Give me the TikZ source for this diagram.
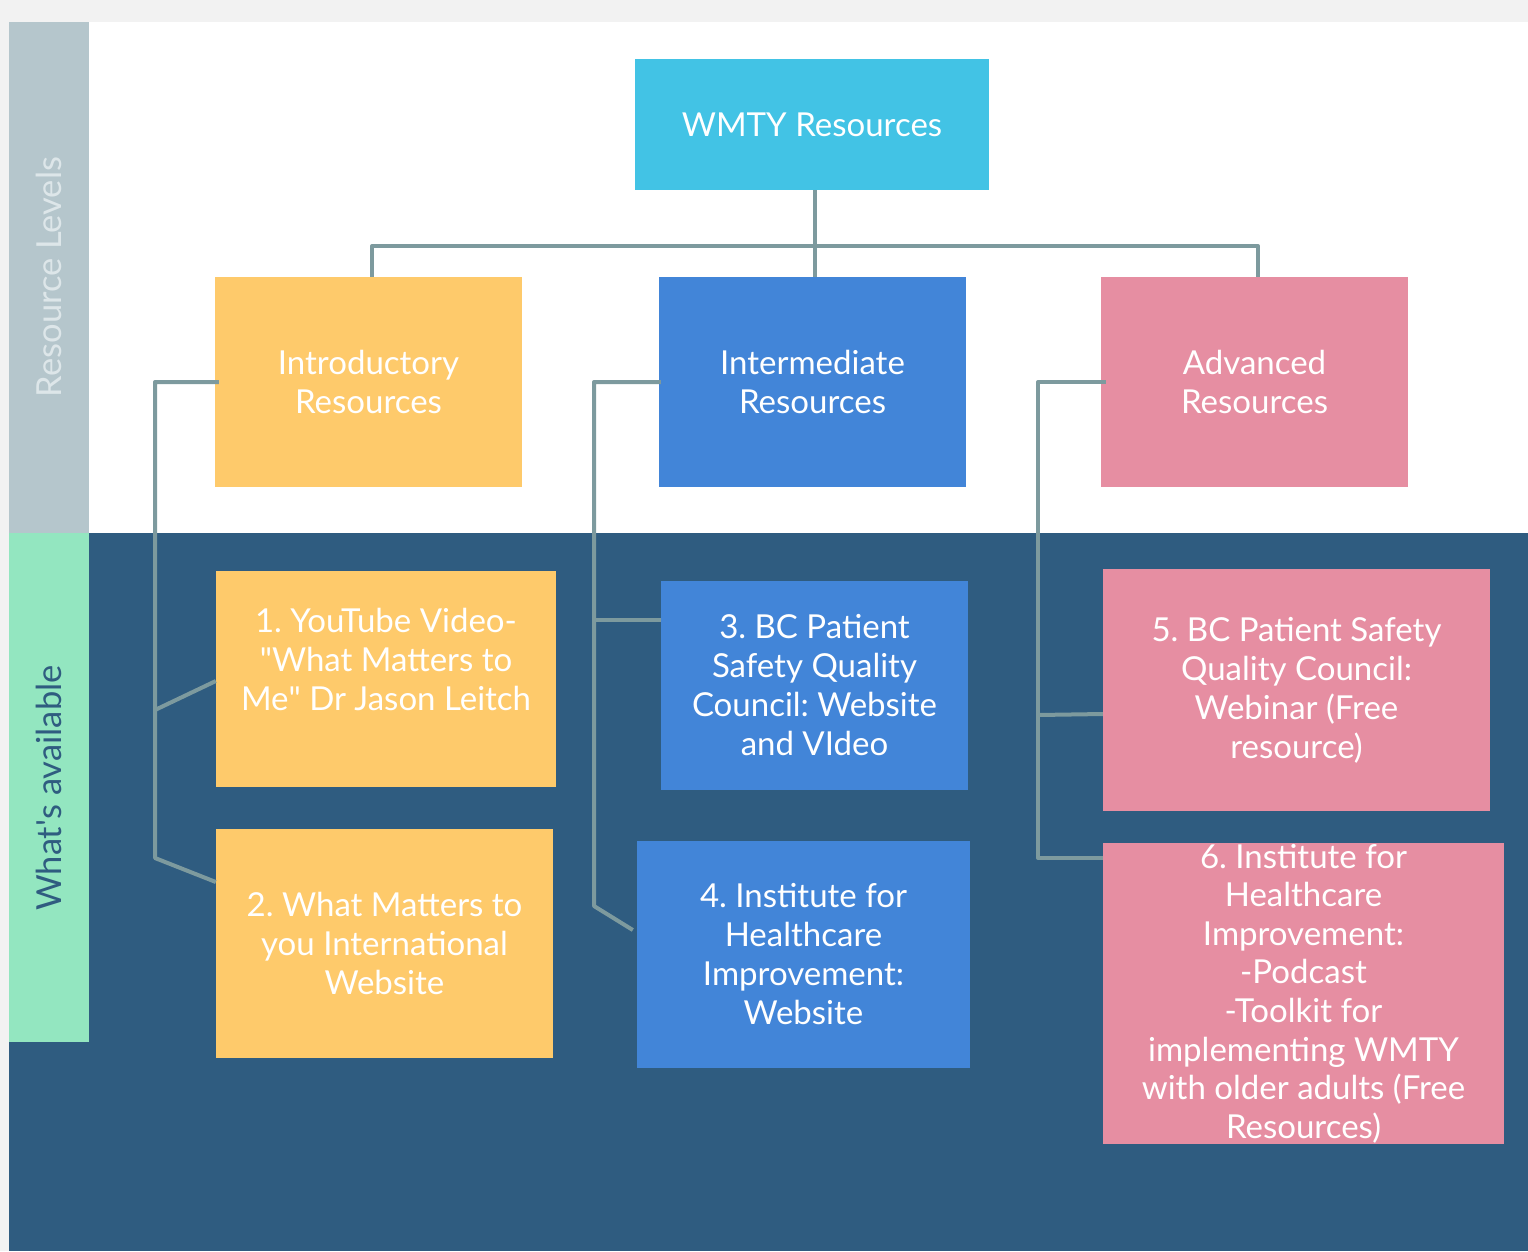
\documentclass[tikz,border=0pt]{standalone}
\usepackage{fontspec}
\setmainfont{Lato}
\frenchspacing
\definecolor{pagegray}{HTML}{F2F2F2}
\definecolor{navy}{HTML}{2F5C80}
\definecolor{levelgray}{HTML}{B5C6CC}
\definecolor{availgreen}{HTML}{93E6C0}
\definecolor{linkgray}{HTML}{7D9A9E}
\definecolor{topblue}{HTML}{42C3E5}
\definecolor{introyellow}{HTML}{FECA6B}
\definecolor{interblue}{HTML}{4285D8}
\definecolor{advpink}{HTML}{E68EA2}
\definecolor{levelstext}{HTML}{DDE6E9}
\newcommand{\boxfont}{\fontsize{33}{39}\selectfont}
\tikzset{
  box/.style={rectangle, inner sep=0pt, text=white, align=center, font=\boxfont},
  introbox/.style={box, fill=introyellow},
  interbox/.style={box, fill=interblue},
  advbox/.style={box, fill=advpink},
  link/.style={draw=linkgray, line width=4pt, line join=round},
  sidelabel/.style={rotate=90, font=\fontsize{34.5}{39}\selectfont}
}
\begin{document}
\begin{tikzpicture}[x=1pt,y=-1pt]
  % background bands
  \fill[pagegray] (0,0) rectangle (1528,1251);
  \fill[white] (9,22) rectangle (1528,533);
  \fill[navy] (9,533) rectangle (1528,1251);
  \fill[levelgray] (9,22) rectangle (89,533);
  \fill[availgreen] (9,533) rectangle (89,1042);
  \node[sidelabel, text=levelstext] (levels) at (49,277) {Resource Levels};
  \node[sidelabel, text=navy] (avail) at (49,788) {What\textquotesingle s available};

  % top levels
  \node[box, fill=topblue, minimum width=354pt, minimum height=131pt] (wmty) at (812,124.5) {WMTY Resources};
  \node[introbox, minimum width=307pt, minimum height=210pt] (intro) at (368.5,382) {Introductory\\Resources};
  \node[interbox, minimum width=307pt, minimum height=210pt] (inter) at (812.5,382) {Intermediate\\Resources};
  \node[advbox, minimum width=307pt, minimum height=210pt] (adv) at (1254.5,382) {Advanced\\Resources};

  % what's available
  \node[introbox, minimum width=340pt, minimum height=216pt] (video) at (386,679) {};
  \node[box] (videotext) at (386,659) {1. YouTube Video-\\\textquotedbl What Matters to\\Me\textquotedbl{} Dr Jason Leitch};
  \node[introbox, minimum width=337pt, minimum height=229pt] (site) at (384.5,943.5) {2. What Matters to\\you International\\Website};
  \node[interbox, minimum width=307pt, minimum height=209pt] (bcweb) at (814.5,685.5) {3. BC Patient\\Safety Quality\\Council: Website\\and VIdeo};
  \node[interbox, minimum width=333pt, minimum height=227pt] (ihiweb) at (803.5,954.5) {4. Institute for\\Healthcare\\Improvement:\\Website};
  \node[advbox, minimum width=387pt, minimum height=242pt] (webinar) at (1296.5,690) {5. BC Patient Safety\\Quality Council:\\Webinar (Free\\resource)};
  \node[advbox, minimum width=401pt, minimum height=301pt, font=\fontsize{33}{38.6}\selectfont] (ihitool) at (1303.5,993.5) {6. Institute for\\Healthcare\\Improvement:\\-Podcast\\-Toolkit for\\implementing WMTY\\with older adults (Free\\Resources)};

  % tree connectors
  \coordinate (hub) at (815,246);
  \draw[link] (hub |- wmty.south) -- (hub) -- (hub |- inter.north);
  \draw[link] ([xshift=3.5pt]intro.north) |- (hub) -| ([xshift=3.5pt]adv.north);

  \coordinate (introtop) at (155,382);
  \coordinate (introbot) at (155,858);
  \coordinate (introfork) at (155,710);
  \draw[link] ([xshift=4pt]intro.west) -- (introtop) -- (introbot) -- ([yshift=61.5pt]site.west);
  \draw[link] (introfork) -- ([yshift=-2pt]video.west);

  \coordinate (intertop) at (594,382);
  \coordinate (interbot) at (594,906);
  \coordinate (interfork) at (594,620);
  \draw[link] ([xshift=2pt]inter.west) -- (intertop) -- (interbot) -- ([xshift=-4pt,yshift=24.5pt]ihiweb.west);
  \draw[link] (interfork) -- (bcweb.west |- interfork);

  \coordinate (advtop) at (1038,382);
  \coordinate (advbot) at (1038,858);
  \coordinate (advfork) at (1038,715);
  \draw[link] ([xshift=5pt]adv.west) -- (advtop) -- (advbot) -- (ihitool.west |- advbot);
  \draw[link] (advfork) -- ([yshift=1pt]webinar.west |- advfork);
\end{tikzpicture}
\end{document}
